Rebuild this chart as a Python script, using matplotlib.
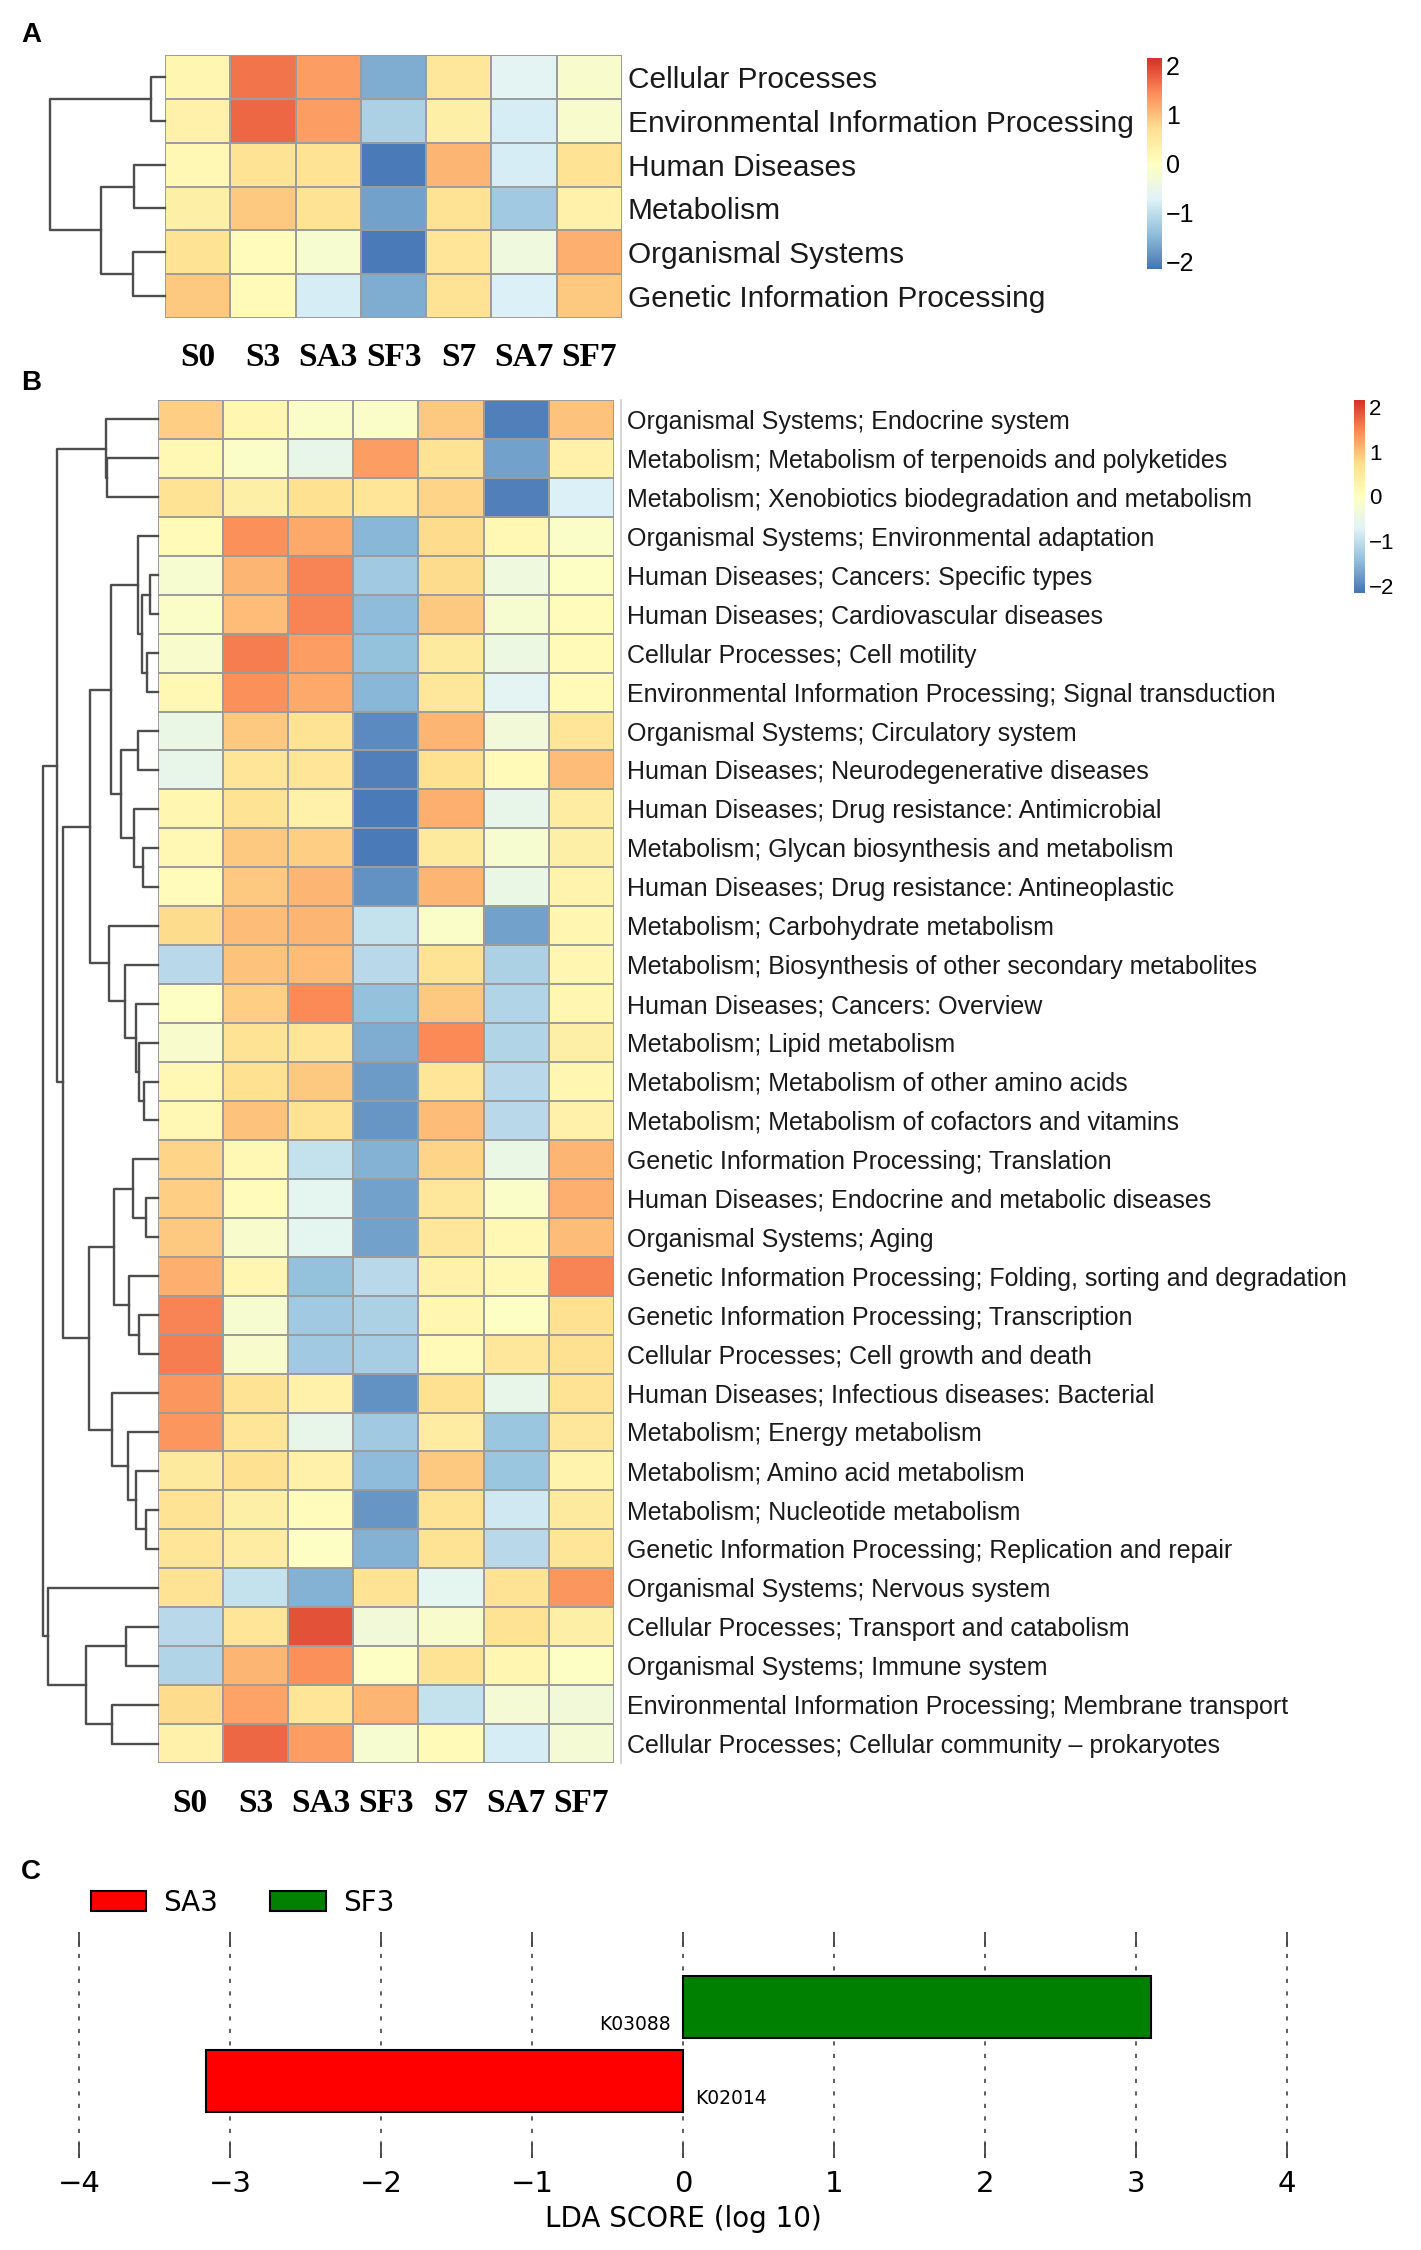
import matplotlib
matplotlib.use("Agg")
import matplotlib.pyplot as plt
import matplotlib.transforms as mtransforms
from matplotlib.colors import LinearSegmentedColormap, Normalize
from matplotlib.cm import ScalarMappable
from matplotlib.patches import Patch
import numpy as np

W, H = 1421, 2250

samples = ["S0", "S3", "SA3", "SF3", "S7", "SA7", "SF7"]

# ---- panel A: KEGG level 1 (row z-scores) ----
level1_names = [
    "Cellular Processes",
    "Environmental Information Processing",
    "Human Diseases",
    "Metabolism",
    "Organismal Systems",
    "Genetic Information Processing",
]
level1_values = [
    [0.20, 1.50, 1.20, -1.50, 0.50, -0.60, -0.15],
    [0.30, 1.60, 1.20, -1.10, 0.35, -0.75, -0.15],
    [0.15, 0.60, 0.60, -1.95, 1.00, -0.75, 0.60],
    [0.35, 0.85, 0.60, -1.60, 0.60, -1.20, 0.30],
    [0.60, 0.05, -0.20, -1.95, 0.55, -0.35, 1.05],
    [0.85, 0.10, -0.75, -1.50, 0.60, -0.70, 0.85],
]
# merges: (left, right, height) ; new cluster ids start at n_leaves
level1_linkage = [
    (0, 1, 14), (2, 3, 31), (4, 5, 32), (7, 8, 64), (6, 9, 115),
]

# ---- panel B: KEGG level 2 ----
level2_names = [
    "Organismal Systems; Endocrine system",
    "Metabolism; Metabolism of terpenoids and polyketides",
    "Metabolism; Xenobiotics biodegradation and metabolism",
    "Organismal Systems; Environmental adaptation",
    "Human Diseases; Cancers: Specific types",
    "Human Diseases; Cardiovascular diseases",
    "Cellular Processes; Cell motility",
    "Environmental Information Processing; Signal transduction",
    "Organismal Systems; Circulatory system",
    "Human Diseases; Neurodegenerative diseases",
    "Human Diseases; Drug resistance: Antimicrobial",
    "Metabolism; Glycan biosynthesis and metabolism",
    "Human Diseases; Drug resistance: Antineoplastic",
    "Metabolism; Carbohydrate metabolism",
    "Metabolism; Biosynthesis of other secondary metabolites",
    "Human Diseases; Cancers: Overview",
    "Metabolism; Lipid metabolism",
    "Metabolism; Metabolism of other amino acids",
    "Metabolism; Metabolism of cofactors and vitamins",
    "Genetic Information Processing; Translation",
    "Human Diseases; Endocrine and metabolic diseases",
    "Organismal Systems; Aging",
    "Genetic Information Processing; Folding, sorting and degradation",
    "Genetic Information Processing; Transcription",
    "Cellular Processes; Cell growth and death",
    "Human Diseases; Infectious diseases: Bacterial",
    "Metabolism; Energy metabolism",
    "Metabolism; Amino acid metabolism",
    "Metabolism; Nucleotide metabolism",
    "Genetic Information Processing; Replication and repair",
    "Organismal Systems; Nervous system",
    "Cellular Processes; Transport and catabolism",
    "Organismal Systems; Immune system",
    "Environmental Information Processing; Membrane transport",
    "Cellular Processes; Cellular community \u2013 prokaryotes",
]
level2_values = [
    [0.80, 0.20, -0.10, -0.10, 0.85, -1.90, 0.90],
    [0.15, -0.10, -0.50, 1.20, 0.60, -1.60, 0.30],
    [0.60, 0.35, 0.65, 0.55, 0.75, -1.90, -0.70],
    [0.10, 1.30, 1.10, -1.40, 0.70, 0.15, -0.10],
    [-0.20, 1.00, 1.40, -1.20, 0.70, -0.35, -0.05],
    [-0.10, 0.95, 1.40, -1.35, 0.85, -0.20, 0.05],
    [-0.15, 1.45, 1.20, -1.30, 0.45, -0.40, 0.10],
    [0.15, 1.30, 1.10, -1.40, 0.50, -0.60, 0.10],
    [-0.45, 0.85, 0.60, -1.80, 1.00, -0.30, 0.55],
    [-0.50, 0.55, 0.55, -1.90, 0.65, 0.10, 0.95],
    [0.20, 0.60, 0.30, -1.95, 1.05, -0.50, 0.40],
    [0.15, 0.85, 0.80, -1.95, 0.45, -0.20, 0.35],
    [0.05, 0.85, 1.00, -1.75, 1.00, -0.45, 0.25],
    [0.70, 0.95, 1.00, -0.90, -0.10, -1.60, 0.20],
    [-1.00, 0.90, 0.95, -1.00, 0.60, -1.10, 0.20],
    [-0.05, 0.80, 1.35, -1.30, 0.85, -1.05, 0.20],
    [-0.15, 0.60, 0.55, -1.50, 1.35, -1.05, 0.35],
    [0.15, 0.65, 0.85, -1.65, 0.55, -1.00, 0.20],
    [0.15, 0.90, 0.60, -1.70, 0.95, -1.00, 0.30],
    [0.75, 0.15, -0.90, -1.45, 0.75, -0.45, 1.00],
    [0.80, 0.05, -0.55, -1.60, 0.50, -0.10, 1.05],
    [0.85, -0.15, -0.55, -1.60, 0.50, 0.15, 0.95],
    [1.05, 0.20, -1.30, -1.00, 0.30, 0.15, 1.40],
    [1.40, -0.20, -1.20, -1.10, 0.20, -0.05, 0.65],
    [1.45, -0.15, -1.20, -1.15, 0.10, 0.50, 0.65],
    [1.25, 0.60, 0.30, -1.75, 0.65, -0.50, 0.60],
    [1.25, 0.55, -0.50, -1.20, 0.40, -1.25, 0.50],
    [0.45, 0.65, 0.30, -1.35, 0.85, -1.25, 0.25],
    [0.60, 0.35, 0.05, -1.70, 0.60, -0.80, 0.45],
    [0.55, 0.40, -0.05, -1.45, 0.60, -1.00, 0.55],
    [0.60, -0.90, -1.45, 0.60, -0.55, 0.60, 1.25],
    [-1.00, 0.55, 1.75, -0.30, -0.15, 0.60, 0.35],
    [-1.05, 1.00, 1.30, -0.05, 0.60, 0.20, -0.05],
    [0.70, 1.15, 0.55, 1.00, -0.90, -0.25, -0.30],
    [0.30, 1.60, 1.20, -0.20, 0.10, -0.75, -0.25],
]
level2_linkage = [
    (1, 2, 152), (0, 35, 155),
    (4, 5, 23), (6, 7, 33), (37, 38, 47), (3, 39, 60),
    (8, 9, 60), (11, 12, 45), (10, 42, 70), (41, 43, 110), (40, 44, 140),
    (17, 18, 40), (16, 46, 57), (15, 47, 65), (14, 48, 98), (13, 49, 145),
    (45, 50, 202),
    (20, 21, 35), (19, 52, 73), (23, 24, 55), (22, 54, 85), (53, 55, 130),
    (28, 29, 35), (27, 57, 65), (26, 58, 90), (25, 59, 137), (56, 60, 205),
    (51, 61, 285), (36, 62, 303),
    (31, 32, 95), (33, 34, 137), (64, 65, 215), (30, 66, 330),
    (63, 67, 345),
]

# ---- panel C: LEfSe ----
lda_features = ["K02014", "K03088"]
lda_groups = ["SA3", "SF3"]
lda_scores = [-3.16, 3.10]
group_colors = {"SA3": "#ff0000", "SF3": "#008000"}

cmap = LinearSegmentedColormap.from_list(
    "rdylbu_r", ["#4575B4", "#91BFDB", "#E0F3F8", "#FFFFBF",
                 "#FEE090", "#FC8D59", "#D73027"])
norm = Normalize(vmin=-2.0, vmax=2.0)
bar_norm = Normalize(vmin=-2.15, vmax=2.15)

fig = plt.figure(figsize=(W / 100, H / 100), dpi=100)


def px_axes(x0, y0, x1, y1):
    return fig.add_axes([x0 / W, 1 - y1 / H, (x1 - x0) / W, (y1 - y0) / H])


def draw_dendrogram(ax, linkage, n):
    pos = {i: i + 0.5 for i in range(n)}
    hgt = {i: 0.0 for i in range(n)}
    for k, (a, b, h) in enumerate(linkage):
        ax.plot([hgt[a], h, h, hgt[b]], [pos[a], pos[a], pos[b], pos[b]],
                color="#4d4d4d", lw=1.7, clip_on=False)
        pos[n + k] = (pos[a] + pos[b]) / 2
        hgt[n + k] = h
    ax.set_ylim(n, 0)
    ax.set_xlim(max(hgt.values()), 0)
    ax.axis("off")


def draw_heatmap(ax, values, names, label_size, label_pad, col_y):
    data = np.array(values)
    ax.pcolormesh(data, cmap=cmap, norm=norm, edgecolors="#9c9c9c", linewidth=1.3)
    ax.set_xlim(0, data.shape[1])
    ax.set_ylim(data.shape[0], 0)
    for s in ax.spines.values():
        s.set_visible(False)
    ax.set_xticks([])
    ax.yaxis.tick_right()
    ax.set_yticks(np.arange(len(names)) + 0.5)
    ax.set_yticklabels(names, fontsize=label_size, family="Liberation Sans",
                       color="#1a1a1a")
    ax.tick_params(axis="y", length=0, pad=label_pad)
    trans = mtransforms.blended_transform_factory(ax.transData, ax.transAxes)
    for j, s in enumerate(samples):
        ax.text(j + 0.5, col_y, s, transform=trans, ha="center", va="center",
                fontsize=24, family="Liberation Serif", fontweight="bold")


def draw_colorbar(cax, size):
    cb = fig.colorbar(ScalarMappable(norm=bar_norm, cmap=cmap), cax=cax,
                      ticks=[-2, -1, 0, 1, 2])
    cb.outline.set_visible(False)
    cax.tick_params(length=0, labelsize=size, pad=3)
    for t in cax.get_yticklabels():
        t.set_family("Liberation Sans")


# ---------- panel A ----------
ax_a = px_axes(165, 55, 622, 318)
draw_heatmap(ax_a, level1_values, level1_names, 21.5, 4, -(357 - 318) / (318 - 55))
ax_da = px_axes(50, 55, 165, 318)
draw_dendrogram(ax_da, level1_linkage, len(level1_names))
draw_colorbar(px_axes(1147, 58, 1162, 269), 18)
fig.text(21 / W, 1 - 35 / H, "A", fontsize=20, fontweight="bold",
         family="Liberation Sans", va="center")

# ---------- panel B ----------
ax_b = px_axes(157.5, 400, 614, 1763)
draw_heatmap(ax_b, level2_values, level2_names, 18, 9, -(1803 - 1763) / (1763 - 400))
ax_b.plot([7.11, 7.11], [0, len(level2_names)], color="#cfcfcf", lw=1.2, clip_on=False)
ax_db = px_axes(42.5, 400, 157.5, 1763)
draw_dendrogram(ax_db, level2_linkage, len(level2_names))
draw_colorbar(px_axes(1354, 400, 1365, 593), 16)
fig.text(21 / W, 1 - 383 / H, "B", fontsize=20, fontweight="bold",
         family="Liberation Sans", va="center")

# ---------- panel C ----------
ax_c = px_axes(76, 1932, 1290, 2158)
ypos = np.arange(len(lda_features))
ax_c.barh(ypos, lda_scores, height=0.84,
          color=[group_colors[g] for g in lda_groups],
          edgecolor="black", linewidth=1.5, zorder=3)
for y, f, v in zip(ypos, lda_features, lda_scores):
    if v < 0:
        ax_c.text(0.08, y - 0.23, f, ha="left", va="center", fontsize=13.5, zorder=4)
    else:
        ax_c.text(-0.08, y - 0.23, f, ha="right", va="center", fontsize=13.5, zorder=4)
ax_c.set_xlim(-4.02, 4.02)
ax_c.set_ylim(-1.04, 2.02)
ax_c.set_xticks(range(-4, 5))
ax_c.set_yticks([])
ax_c.xaxis.grid(True, linestyle=(0, (2.5, 5)), color="#444444", lw=1.2)
ax_c.tick_params(axis="x", direction="in", top=True, bottom=True, length=11,
                 width=1.3, color="#444444", labelsize=21, pad=9)
for s in ax_c.spines.values():
    s.set_visible(False)
ax_c.set_xlabel("LDA SCORE (log 10)", fontsize=20, labelpad=5)
handles = [Patch(facecolor=group_colors[g], edgecolor="black", linewidth=1.5, label=g)
           for g in lda_groups]
ax_c.legend(handles=handles, loc="upper left", bbox_to_anchor=(0.012, 1.19),
            ncol=2, frameon=False, fontsize=20, borderpad=0, borderaxespad=0,
            handlelength=2.0, handleheight=0.72, handletextpad=0.6,
            columnspacing=1.9)
fig.text(21 / W, 1 - 1872 / H, "C", fontsize=20, fontweight="bold",
         family="Liberation Sans", va="center")

fig.savefig("out.png", dpi=100)
